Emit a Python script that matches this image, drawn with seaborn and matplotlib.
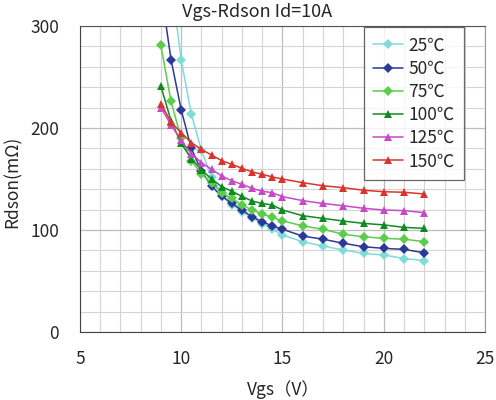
import numpy as np
import pandas as pd
import matplotlib
matplotlib.use('Agg')
import matplotlib.pyplot as plt
import seaborn as sns
from matplotlib.ticker import MultipleLocator

# 데이터
vgs = [9, 9.5, 10, 10.5, 11, 11.5, 12, 12.5, 13, 13.5, 14, 14.5, 15,
       16, 17, 18, 19, 20, 21, 22]
r25 = [450, 345, 267, 214, 178, 152, 136, 125, 118, 112, 106, 101, 95,
       88.5, 84.3, 80.4, 77, 75.5, 72, 70]
r50 = [336, 267, 218, 180, 158, 143, 133, 126, 119.6, 113, 108, 104, 100.7,
       94, 91, 87, 83.6, 82, 81, 77.7]
r75 = [281, 226, 190, 168, 155, 146, 136.6, 131, 124.5, 119.6, 115.7, 112.4, 109,
       104, 100.7, 95.8, 93.4, 91.8, 91, 88.5]
r100 = [241, 207, 185, 170, 159, 150, 142.5, 138, 133, 128.4, 126, 124.5, 119.6,
        114, 111.4, 108.8, 106.5, 105, 102.6, 101.6]
r125 = [220, 203, 188, 175, 166, 159.5, 153, 148.3, 144.8, 140.9, 138, 136.6, 132.7,
        128.8, 126, 123.8, 121.3, 119.6, 119, 117]
r150 = [224, 205.6, 195.5, 185.6, 179, 173.5, 168, 164.4, 160.5, 157, 154.6, 152, 150,
        146.4, 143.4, 141.5, 139, 137.5, 137, 135.3]
temps = ['25℃', '50℃', '75℃', '100℃', '125℃', '150℃']
colors = ['#7fdcd8', '#2b3a98', '#5ccc4c', '#108a22', '#c649c6', '#d8352f']
marks = ['D', 'D', 'D', '^', '^', '^']

series = [r25, r50, r75, r100, r125, r150]
df = pd.concat([pd.DataFrame({'Vgs': vgs, 'Rdson': s, 'T': t})
                for s, t in zip(series, temps)], ignore_index=True)

sns.set_style('white')
plt.rcParams['font.family'] = ['Noto Sans CJK JP', 'DejaVu Sans']

fig = plt.figure(figsize=(4.96, 4.0), dpi=100)
ax = fig.add_axes([0.161, 0.17, 0.817, 0.765])

sns.lineplot(data=df, x='Vgs', y='Rdson', hue='T', style='T',
             palette=dict(zip(temps, colors)), markers=dict(zip(temps, marks)),
             dashes=False, markersize=5.5, linewidth=1.1, markeredgewidth=0,
             ax=ax, legend='full')

ax.set_xlim(5, 25)
ax.set_ylim(0, 300)
ax.xaxis.set_major_locator(MultipleLocator(5))
ax.xaxis.set_minor_locator(MultipleLocator(1))
ax.yaxis.set_major_locator(MultipleLocator(100))
ax.yaxis.set_minor_locator(MultipleLocator(20))
ax.grid(which='minor', color='#d4d4d4', linewidth=0.8)
ax.grid(which='major', color='#bdbdbd', linewidth=0.9)
ax.set_axisbelow(True)
ax.tick_params(which='both', length=0, labelsize=12.5)
ax.tick_params(axis='y', pad=15)
ax.tick_params(axis='x', pad=13)
for sp in ax.spines.values():
    sp.set_color('#9a9a9a')
    sp.set_linewidth(0.8)
ax.spines['left'].set_color('#444444')
ax.spines['bottom'].set_color('#444444')
ax.spines['top'].set_color('#555555')

# 제목과 축 이름
fig.text(0.518, 0.97, 'Vgs-Rdson Id=10A', fontsize=13, ha='center', va='center')
ax.set_xlabel('')
ax.set_ylabel('')
fig.text(0.571, 0.025, 'Vgs（V）', fontsize=12.5, ha='center', va='center')
fig.text(0.026, 0.545, 'Rdson(mΩ)', fontsize=12.5, ha='center', va='center',
         rotation=90)

leg = ax.legend(loc='upper right', bbox_to_anchor=(0.95, 1.0), frameon=True,
                fancybox=False, fontsize=12.5, handlelength=1.7,
                borderpad=0.55, labelspacing=0.3, handletextpad=0.3,
                borderaxespad=0.05)
leg.get_frame().set_edgecolor('#444444')
leg.get_frame().set_linewidth(0.9)

fig.savefig('out.png', dpi=100)
